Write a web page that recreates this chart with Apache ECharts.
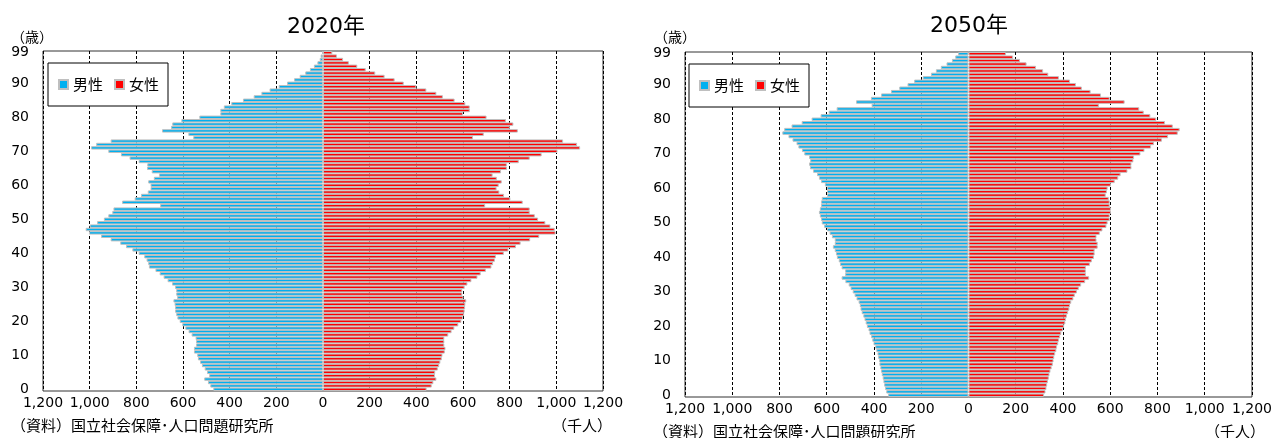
<!DOCTYPE html>
<html>
<head>
<meta charset="utf-8">
<script src="https://cdn.jsdelivr.net/npm/echarts@6/dist/echarts.min.js"></script>
<style>
html,body{margin:0;padding:0;background:#fff;}
#chart{width:1275px;height:438px;}
</style>
</head>
<body>
<div id="chart"></div>
<script>
// ages 0..99 (category labels)
var ages = [];
for (var a = 0; a <= 99; a++) ages.push(String(a));

var yearTitles = ['2020年', '2050年'];
var seriesNames = ['男性', '女性'];
var xTicks = [-1200, -1000, -800, -600, -400, -200, 0, 200, 400, 600, 800, 1000, 1200];

// values in thousands, index = age 0..99
var male2020 = [470,483,493,509,488,497,507,519,527,536,
  539,553,553,544,544,546,563,576,590,603,
  614,624,629,634,634,636,641,625,629,629,
  634,647,666,683,700,718,746,749,756,766,
  790,817,844,869,910,951,1003,1017,1000,968,
  939,920,903,898,698,861,807,780,751,739,
  739,749,725,703,734,754,753,790,829,866,
  920,994,972,910,556,577,690,651,646,607,
  530,440,440,425,393,343,297,264,229,190,
  154,124,100,76,56,39,24,14,10,4];

var female2020 = [444,466,473,486,480,481,492,498,503,509,
  512,522,525,520,520,520,537,551,563,580,
  593,600,605,607,609,610,614,602,597,597,
  607,619,636,662,676,698,722,729,737,741,
  775,795,827,847,888,927,997,993,975,953,
  922,908,886,886,695,856,803,776,756,744,
  753,766,745,727,763,788,788,839,886,937,
  1005,1102,1089,1029,643,689,835,801,816,784,
  701,600,629,629,610,564,514,486,443,400,
  346,307,264,224,183,147,111,86,60,40];

var male2050 = [340,348,353,357,360,363,367,370,373,377,
  378,382,385,390,395,402,407,412,419,423,
  430,435,440,445,452,457,460,465,474,482,
  490,499,507,521,537,522,522,537,544,549,
  557,561,566,574,566,566,578,588,599,611,
  621,624,629,633,629,624,624,621,599,599,
  599,608,624,633,641,658,671,675,670,675,
  695,705,720,728,745,762,788,780,749,706,
  664,626,592,558,410,476,413,370,328,293,
  258,230,194,159,138,117,93,70,56,44];

var female2050 = [320,326,330,333,336,340,343,347,352,357,
  360,363,367,372,375,380,383,388,393,400,
  405,410,413,417,422,427,430,435,444,450,
  459,467,477,494,511,497,497,497,514,522,
  531,534,534,547,547,542,542,556,567,584,
  589,598,598,603,603,598,598,594,581,586,
  589,603,619,634,644,673,690,690,698,701,
  728,745,773,785,819,845,886,894,865,832,
  795,770,742,723,552,661,598,561,517,480,
  455,430,383,338,316,286,246,218,189,159];

var MALE_COLOR = '#00B0F0', FEMALE_COLOR = '#FF0000';
var NUM_FONT = 'DejaVu Sans';
var JP_FONT = '"Noto Sans CJK JP", "Noto Sans", sans-serif';
var TITLE_FONT = '"DejaVu Sans", "Noto Sans CJK JP", sans-serif';

var grids = [
  {left: 43, top: 51, width: 560, height: 340},
  {left: 685, top: 52, width: 568, height: 345}
];

function splitColors() {
  return xTicks.map(function (v) { return v === 0 ? 'rgba(0,0,0,0)' : '#000'; });
}

var chart = echarts.init(document.getElementById('chart'), null, {renderer: 'canvas'});

var gridOpts = grids.map(function (g) {
  return {left: g.left, top: g.top, width: g.width, height: g.height,
    show: true, borderColor: '#333', borderWidth: 1, backgroundColor: '#fff', containLabel: false};
});

var xAxes = [0, 1].map(function (i) {
  return {
    type: 'value', gridIndex: i, min: -1200, max: 1200, interval: 200,
    axisLine: {show: false}, axisTick: {show: false},
    axisLabel: {
      margin: 5, color: '#000', fontSize: 14, fontFamily: NUM_FONT,
      formatter: function (v) { return Math.abs(v).toLocaleString('en-US'); }
    },
    splitLine: {show: true, lineStyle: {color: splitColors(), type: [3, 2], width: 1}}
  };
});

var yAxes = [0, 1].map(function (i) {
  return {
    type: 'category', gridIndex: i, data: ages, boundaryGap: true,
    axisLine: {show: false}, axisTick: {show: false},
    axisLabel: {
      margin: 14, color: '#000', fontSize: 14, fontFamily: NUM_FONT,
      interval: function (idx) { return idx % 10 === 0 || idx === 99; }
    },
    splitLine: {show: false}
  };
});

function barSeries(name, data, color, gi, negate) {
  return {
    name: name, type: 'bar', xAxisIndex: gi, yAxisIndex: gi,
    data: data.map(function (v) { return negate ? -v : v; }),
    barGap: '-100%', barCategoryGap: '0%',
    itemStyle: {color: color, borderColor: '#BFBFBF', borderWidth: 1},
    emphasis: {disabled: true},
    animation: false, silent: true
  };
}

var series = [
  barSeries(seriesNames[0], male2020, MALE_COLOR, 0, true),
  barSeries(seriesNames[1], female2020, FEMALE_COLOR, 0, false),
  barSeries(seriesNames[0], male2050, MALE_COLOR, 1, true),
  barSeries(seriesNames[1], female2050, FEMALE_COLOR, 1, false)
];

function legendAt(left, top) {
  return {
    left: left, top: top, orient: 'horizontal',
    data: seriesNames, icon: 'rect', itemWidth: 9, itemHeight: 9, itemGap: 11,
    padding: [14, 9, 14, 10],
    borderColor: '#000', borderWidth: 1, backgroundColor: '#fff',
    textStyle: {fontSize: 15, color: '#000', fontFamily: JP_FONT},
    selectedMode: false
  };
}

function txt(text, x, y, size, align, font) {
  return {
    type: 'text', x: x, y: y, silent: true, z: 100,
    style: {text: text, fill: '#000', font: size + 'px ' + (font || JP_FONT),
      textAlign: align || 'left', textVerticalAlign: 'middle', verticalAlign: 'middle'}
  };
}

chart.setOption({
  animation: false,
  grid: gridOpts,
  xAxis: xAxes,
  yAxis: yAxes,
  series: series,
  legend: [legendAt(48, 63), legendAt(689, 64)],
  graphic: [
    txt(yearTitles[0], 326, 27, 22, 'center', TITLE_FONT),
    txt(yearTitles[1], 969, 26, 22, 'center', TITLE_FONT),
    txt('（歳）', 11, 37, 14, 'left'),
    txt('（歳）', 654, 37, 14, 'left'),
    txt('（資料）国立社会保障･人口問題研究所', 11, 425, 15, 'left'),
    txt('（資料）国立社会保障･人口問題研究所', 653, 431, 15, 'left'),
    txt('（千人）', 612, 425, 15, 'right'),
    txt('（千人）', 1265, 431, 15, 'right')
  ]
});
</script>
</body>
</html>
